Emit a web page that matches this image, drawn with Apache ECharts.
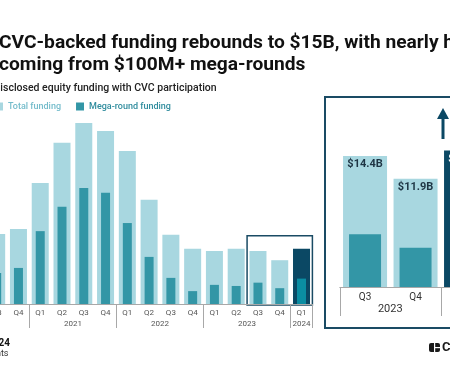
<!DOCTYPE html>
<html>
<head>
<meta charset="utf-8">
<script src="https://cdn.jsdelivr.net/npm/echarts@6/dist/echarts.min.js"></script>
<style>
  html, body { margin: 0; padding: 0; background: #fff; }
  #chart { width: 450px; height: 375px; }
</style>
</head>
<body>
<div id="chart"></div>
<script>
// quarterly CVC-backed funding, $B
const quarters = ['Q3', 'Q4', 'Q1', 'Q2', 'Q3', 'Q4', 'Q1', 'Q2', 'Q3', 'Q4', 'Q1', 'Q2', 'Q3', 'Q4', 'Q1'];
const quarterYears = ['2020', '2020', '2021', '2021', '2021', '2021', '2022', '2022', '2022', '2022', '2023', '2023', '2023', '2023', '2024'];
const totalFunding = [19.0, 20.4, 32.9, 43.8, 49.2, 47.0, 41.6, 28.3, 18.8, 15.0, 14.4, 15.0, 14.4, 11.9, 15.0];
const megaFunding = [8.4, 9.8, 19.8, 26.4, 31.5, 30.2, 22.0, 12.8, 7.1, 3.5, 5.2, 4.9, 5.8, 4.3, 6.9];
const insetCount = 3; // last quarters repeated in the zoom panel

const LIGHT = '#a8d7e0';
const MEGA = '#3396a6';
const DARK = '#0b4864';
const DARK_MEGA = '#0b8da2';
const NAVY = '#1a4b64';
const AXIS = '#a8a8a8';
const FONT = 'Roboto, "Noto Sans", sans-serif';

const cats = quarters.map((q, i) => q + ' ' + quarterYears[i]);
const last = cats.length - 1;

function colored(values, color, lastColor, offset) {
  return values.map((v, i) => i + offset === last
    ? { value: v, itemStyle: { color: lastColor } }
    : v);
}

// year groups -> label centres and separator ticks
function yearGroups(years, extendFirst) {
  const groups = [];
  years.forEach((y, i) => {
    const g = groups[groups.length - 1];
    if (g && g.year === y) g.end = i;
    else groups.push({ year: y, start: i, end: i });
  });
  if (extendFirst) {
    // first year began before the visible quarters
    const qn = Number(quarters[0].slice(1));
    groups[0].start -= (qn - 1);
  }
  const max = years.length - 0.5;
  const ticks = groups.map(g => g.start - 0.5);
  ticks.push(groups[groups.length - 1].end + 0.5);
  return {
    centers: groups.map(g => (g.start + g.end) / 2),
    labels: groups.map(g => g.year),
    ticks: ticks.filter(t => t >= -0.5 && t <= max)
  };
}

const mainYears = yearGroups(quarterYears, true);
const insetYears = yearGroups(quarterYears.slice(-insetCount), false);

function yearLabel(info) {
  return v => {
    const k = info.centers.findIndex(c => Math.abs(c - v) < 0.01);
    return k >= 0 ? info.labels[k] : '';
  };
}

const insetCats = cats.slice(-insetCount);
const offset = cats.length - insetCount;

const chart = echarts.init(document.getElementById('chart'), null, { renderer: 'canvas' });

const option = {
  animation: false,
  textStyle: { fontFamily: FONT },
  legend: {
    left: -5,
    top: 102,
    padding: 0,
    itemWidth: 8,
    itemHeight: 8,
    itemGap: 15,
    icon: 'rect',
    selectedMode: false,
    textStyle: { fontSize: 9, fontWeight: 500, fontFamily: FONT },
    data: [
      { name: 'Total funding', itemStyle: { color: LIGHT }, textStyle: { color: '#74bccb' } },
      { name: 'Mega-round funding', itemStyle: { color: MEGA }, textStyle: { color: '#2f8c9d' } }
    ]
  },
  grid: [
    { left: -14.2, top: 120, width: 326.6, height: 184, outerBoundsMode: 'none', containLabel: false },
    { left: 339.8, top: 105, width: 151.5, height: 182, outerBoundsMode: 'none', containLabel: false }
  ],
  xAxis: [
    {
      type: 'category', gridIndex: 0, data: cats, position: 'bottom',
      axisLine: { lineStyle: { color: AXIS, width: 1 } },
      axisTick: { show: false },
      axisLabel: { interval: 0, fontSize: 8, color: '#555', margin: 5, formatter: v => v.split(' ')[0] }
    },
    { type: 'category', gridIndex: 0, data: cats, show: false },
    {
      type: 'value', gridIndex: 0, position: 'bottom', min: -0.5, max: cats.length - 0.5,
      axisLine: { show: false },
      splitLine: { show: false },
      axisTick: { show: true, customValues: mainYears.ticks, length: 24, lineStyle: { color: AXIS } },
      axisLabel: { customValues: mainYears.centers, fontSize: 8, color: '#555', margin: 16, formatter: yearLabel(mainYears) }
    },
    {
      type: 'category', gridIndex: 1, data: insetCats, position: 'bottom',
      axisLine: { lineStyle: { color: AXIS, width: 1 } },
      axisTick: { show: false },
      axisLabel: { interval: 0, fontSize: 10, color: '#333', margin: 5, formatter: v => v.split(' ')[0] }
    },
    { type: 'category', gridIndex: 1, data: insetCats, show: false },
    {
      type: 'value', gridIndex: 1, position: 'bottom', min: -0.5, max: insetCount - 0.5,
      axisLine: { show: false },
      splitLine: { show: false },
      axisTick: { show: true, customValues: insetYears.ticks, length: 29, lineStyle: { color: AXIS } },
      axisLabel: { customValues: insetYears.centers, fontSize: 11, color: '#333', margin: 17, formatter: yearLabel(insetYears) }
    }
  ],
  yAxis: [
    { type: 'value', gridIndex: 0, min: 0, max: 50, show: false },
    { type: 'value', gridIndex: 1, min: 0, max: 20, show: false }
  ],
  series: [
    {
      name: 'Total funding', type: 'bar', xAxisIndex: 0, yAxisIndex: 0, barWidth: 17,
      itemStyle: { color: LIGHT }, emphasis: { disabled: true },
      data: colored(totalFunding, LIGHT, DARK, 0)
    },
    {
      name: 'Mega-round funding', type: 'bar', xAxisIndex: 1, yAxisIndex: 0, barWidth: 9,
      itemStyle: { color: MEGA }, emphasis: { disabled: true },
      data: colored(megaFunding, MEGA, DARK_MEGA, 0)
    },
    {
      name: 'Total funding', type: 'bar', xAxisIndex: 3, yAxisIndex: 1, barWidth: 44,
      itemStyle: { color: LIGHT }, emphasis: { disabled: true },
      label: {
        show: true, position: 'insideTop', distance: 3, fontSize: 11, fontWeight: 'bold',
        fontFamily: FONT, color: '#1e3544',
        formatter: p => '$' + p.value.toFixed(1) + 'B'
      },
      data: totalFunding.slice(-insetCount).map((v, i) => i + offset === last
        ? { value: v, itemStyle: { color: DARK }, label: { color: '#fff' } }
        : v)
    },
    {
      name: 'Mega-round funding', type: 'bar', xAxisIndex: 4, yAxisIndex: 1, barWidth: 32,
      itemStyle: { color: MEGA }, emphasis: { disabled: true },
      data: colored(megaFunding.slice(-insetCount), MEGA, DARK_MEGA, offset)
    }
  ],
  graphic: [
    { type: 'text', x: -1, y: 43, style: { text: 'CVC-backed funding rebounds to $15B, with nearly half', font: 'bold 19.2px ' + FONT, fill: '#111', verticalAlign: 'middle' } },
    { type: 'text', x: -1, y: 65, style: { text: 'coming from $100M+ mega-rounds', font: 'bold 19.2px ' + FONT, fill: '#111', verticalAlign: 'middle' } },
    { type: 'text', x: -6.5, y: 88, style: { text: 'Disclosed equity funding with CVC participation', font: '500 10.5px ' + FONT, fill: '#222', verticalAlign: 'middle' } },
    { type: 'rect', shape: { x: 325, y: 97, width: 140, height: 231 }, style: { fill: 'none', stroke: NAVY, lineWidth: 2 } },
    { type: 'rect', shape: { x: 441.5, y: 117, width: 3, height: 22 }, style: { fill: DARK } },
    { type: 'polygon', shape: { points: [[437, 119], [449, 119], [443, 108]] }, style: { fill: DARK } },
    { type: 'text', x: 10, y: 343, style: { text: "Global | Q3'20 – Q1'24", font: 'bold 10px ' + FONT, fill: '#111', align: 'right', verticalAlign: 'middle' } },
    { type: 'text', x: 8.5, y: 354, style: { text: 'Source: CB Insights — Global CVC investments', font: '9px ' + FONT, fill: '#333', align: 'right', verticalAlign: 'middle' } },
    { type: 'rect', shape: { x: 429, y: 343, width: 11, height: 9, r: 2 }, style: { fill: '#1a1a1a' } },
    { type: 'rect', shape: { x: 434, y: 343, width: 1.2, height: 9 }, style: { fill: '#fff' } },
    { type: 'rect', shape: { x: 434, y: 347, width: 6, height: 1.2 }, style: { fill: '#fff' } },
    { type: 'text', x: 442, y: 348, style: { text: 'CB Insights', font: 'bold 13px ' + FONT, fill: '#1a1a1a', verticalAlign: 'middle' } }
  ]
};

chart.setOption(option);

// outline round the last three quarters in the main chart
const hlStart = chart.convertToPixel({ xAxisIndex: 2 }, offset - 0.5);
const hlEnd = chart.convertToPixel({ xAxisIndex: 2 }, last + 0.5);
const hlTop = chart.convertToPixel({ yAxisIndex: 0 }, Math.max(...totalFunding.slice(-insetCount))) - 13;
const hlBottom = chart.convertToPixel({ yAxisIndex: 0 }, 0) + 1;
chart.setOption({
  graphic: [{
    id: 'hl', type: 'rect',
    shape: { x: hlStart, y: hlTop, width: hlEnd - hlStart, height: hlBottom - hlTop },
    style: { fill: 'none', stroke: NAVY, lineWidth: 1.5 }
  }]
});

window.addEventListener('resize', () => chart.resize());
</script>
</body>
</html>
